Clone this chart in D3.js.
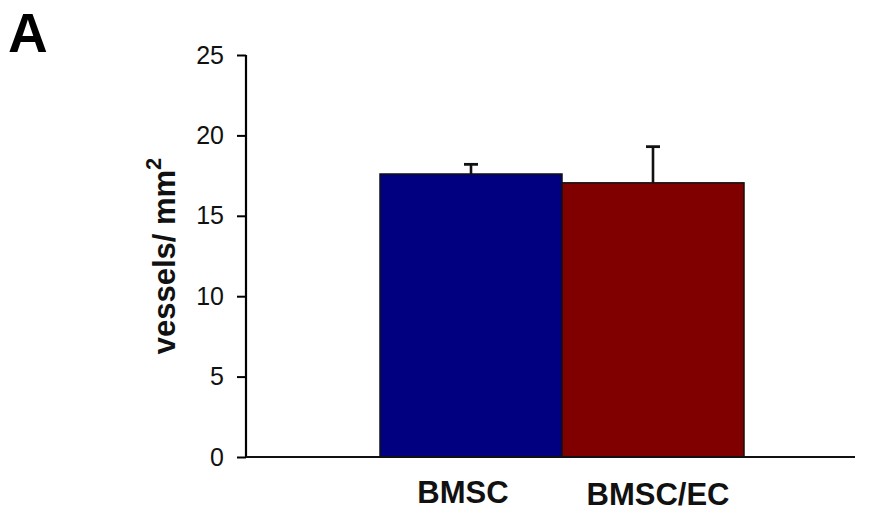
<!DOCTYPE html>
<html>
<head>
<meta charset="utf-8">
<script src="https://cdn.jsdelivr.net/npm/d3@7"></script>
<style>
body { margin: 0; background: #fff; }
text { font-family: "Liberation Sans", Arial, sans-serif; }
</style>
</head>
<body>
<div id="chart-area"></div>
<script>
// data
var categories = ["BMSC", "BMSC/EC"];
var values = [17.6, 17.05];
var errors = [0.6, 2.25];
var colors = ["#000080", "#800000"];
var yTicks = [0, 5, 10, 15, 20, 25];

var margin = {
    left: 246,
    right: 18,
    top: 55,
    bottom: 57
};

var width = 875 - margin.left - margin.right;
var height = 514 - margin.top - margin.bottom;

var svg = d3.select("#chart-area").append("svg")
    .attr("width", 875)
    .attr("height", 514);

var g = svg.append("g")
    .attr("transform", "translate(" + margin.left + ", " + margin.top + ")");

var data = categories.map((c, i) => {
    return { name: c, value: values[i], err: errors[i], color: colors[i] };
});

// bars sit off-center in the plot, like the original
var x = d3.scaleBand()
    .domain(categories)
    .range([134, 498])
    .paddingInner(0)
    .paddingOuter(0);

var y = d3.scaleLinear()
    .domain([0, 25])
    .range([height, 0]);

// panel letter
svg.append("text")
    .attr("x", 8)
    .attr("y", 52)
    .attr("font-size", "55px")
    .attr("font-weight", "bold")
    .style("fill", "black")
    .text("A");

// y axis
var leftAxis = d3.axisLeft(y).tickValues(yTicks).tickSize(9).tickPadding(13);
var ya = g.append("g")
    .attr("class", "left axis")
    .call(leftAxis);
ya.select(".domain")
    .attr("stroke-width", 2.2)
    .attr("d", "M0," + y(25) + "V" + (height + 1));
ya.selectAll(".tick line").attr("stroke-width", 2);
ya.selectAll("text")
    .attr("font-size", "25px")
    .attr("font-family", "Liberation Sans, Arial, sans-serif")
    .style("fill", "#111");

// bars
g.selectAll("rect.bar")
    .data(data)
    .enter()
    .append("rect")
    .attr("class", "bar")
    .attr("x", (d) => x(d.name))
    .attr("y", (d) => y(d.value))
    .attr("width", x.bandwidth())
    .attr("height", (d) => height - y(d.value))
    .attr("fill", (d) => d.color)
    .attr("stroke", "#111")
    .attr("stroke-width", 1.5);

// error bars (upper only)
var eb = g.selectAll("g.err")
    .data(data)
    .enter()
    .append("g")
    .attr("class", "err");
eb.append("line")
    .attr("x1", (d) => x(d.name) + x.bandwidth() / 2)
    .attr("x2", (d) => x(d.name) + x.bandwidth() / 2)
    .attr("y1", (d) => y(d.value))
    .attr("y2", (d) => y(d.value + d.err))
    .attr("stroke", "#111")
    .attr("stroke-width", 2.6);
eb.append("line")
    .attr("x1", (d) => x(d.name) + x.bandwidth() / 2 - 7)
    .attr("x2", (d) => x(d.name) + x.bandwidth() / 2 + 7)
    .attr("y1", (d) => y(d.value + d.err))
    .attr("y2", (d) => y(d.value + d.err))
    .attr("stroke", "#111")
    .attr("stroke-width", 2.8);

// x axis line
g.append("line")
    .attr("x1", 0)
    .attr("x2", width - 2)
    .attr("y1", height)
    .attr("y2", height)
    .attr("stroke", "#111")
    .attr("stroke-width", 2.2);

// category labels
g.selectAll("text.cat")
    .data(data)
    .enter()
    .append("text")
    .attr("class", "cat")
    .attr("x", (d) => x(d.name) + x.bandwidth() / 2)
    .attr("dx", (d, i) => i ? 5 : -8)
    .attr("y", (d, i) => height + 46 + i * 2)
    .attr("text-anchor", "middle")
    .attr("font-size", "31px")
    .attr("font-weight", "bold")
    .style("fill", "#111")
    .text((d) => d.name);

// Y Label
var yl = svg.append("text")
    .attr("transform", "translate(175, " + (margin.top + height / 2) + ") rotate(-90)")
    .attr("text-anchor", "middle")
    .attr("font-size", "31px")
    .attr("font-weight", "bold")
    .style("fill", "#111");
yl.append("tspan").text("vessels/ mm");
yl.append("tspan")
    .attr("font-size", "22px")
    .attr("dy", "-14")
    .text("2");
</script>
</body>
</html>
